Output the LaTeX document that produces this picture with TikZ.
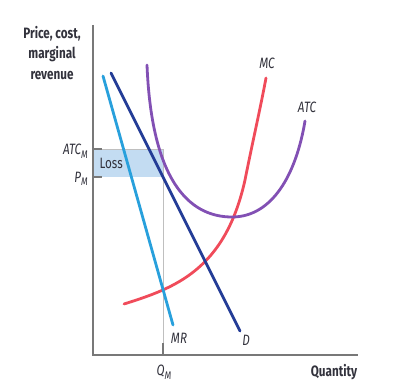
\documentclass[tikz,border=0pt]{standalone}
\usepackage{fontspec}
\setmainfont{Fira Sans}[FakeStretch=0.78]
\definecolor{mrc}{RGB}{40,160,220}
\definecolor{dc}{RGB}{35,60,150}
\definecolor{mcc}{RGB}{240,75,90}
\definecolor{atcc}{RGB}{130,80,180}
\definecolor{lossc}{RGB}{195,220,242}
\definecolor{axc}{RGB}{120,120,120}
\definecolor{txc}{RGB}{50,50,60}
\newcommand{\subM}{\raisebox{-3.5pt}{\fontsize{11}{11}\selectfont M}}
\tikzset{
  curve/.style={line width=2.8pt, line cap=round},
  lab/.style={font=\fontsize{15}{17}\selectfont\itshape, text=txc, inner sep=1pt},
  axlab/.style={font=\fontsize{15}{20.5}\selectfont\bfseries, text=txc, inner sep=1pt},
}
\begin{document}
\begin{tikzpicture}[x=1pt,y=-1pt]
\useasboundingbox (0,0) rectangle (406,390);
% loss box
\fill[lossc] (93,149) rectangle (163,177);
\draw[black!25, line width=0.8pt] (93,149) -- (163,149) -- (163,355);
% axes
\coordinate (o) at (93,355);
\coordinate (ytop) at (93,25);
\coordinate (xend) at (358,355);
\draw[axc, line width=1.4pt] (ytop) -- (o) -- (xend);
% ticks
\draw[axc, line width=1.2pt] (93,149) -- (102,149);
\draw[axc, line width=1.2pt] (93,177) -- (102,177);
\draw[axc, line width=1.2pt] (163,343) -- (163,355);
% curves
\draw[curve, mcc] (124,304) .. controls (175,288) and (225,270) .. (245,180) .. controls (253,140) and (260,110) .. (266,78);
\draw[curve, atcc] (147,65) .. controls (152,190) and (195,217) .. (232,217) .. controls (272,217) and (296,175) .. (305,121);
\draw[curve, mrc] (103,76) -- (173,325);
\draw[curve, dc] (111,73) -- (240,331);
% labels
\node[axlab, align=center] (yl) at (52,53) {Price, cost,\\marginal\\revenue};
\node[axlab] (xl) at (334,372) {Quantity};
\node[lab, anchor=east] (atcm) at (89,151) {ATC\subM};
\node[lab, anchor=east] (pm) at (89,179) {P\subM};
\node[lab, anchor=north] (qm) at (164,364) {Q\subM};
\node[font=\fontsize{15}{17}\selectfont, text=txc, anchor=west] (loss) at (96,163) {Loss};
\node[lab] (mcl) at (267,63) {MC};
\node[lab] (atcl) at (307,107) {ATC};
\node[lab] (mrl) at (179,338) {MR};
\node[lab] (dl) at (246,340) {D};
\end{tikzpicture}
\end{document}
